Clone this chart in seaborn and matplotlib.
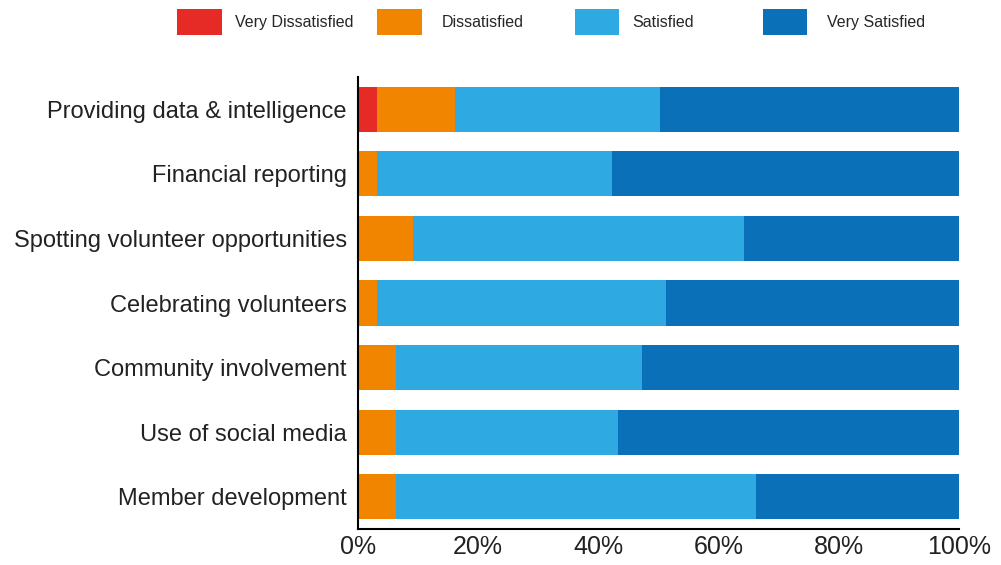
import matplotlib
matplotlib.use("Agg")
import matplotlib.pyplot as plt
import seaborn as sns
import pandas as pd
import numpy as np
from matplotlib.patches import Patch

categories = ["Providing data & intelligence", "Financial reporting",
              "Spotting volunteer opportunities", "Celebrating volunteers",
              "Community involvement", "Use of social media", "Member development"]
very_dissatisfied = [3.2, 0, 0, 0, 0, 0, 0]
dissatisfied = [13.0, 3.2, 9.2, 3.2, 6.3, 6.3, 6.3]
satisfied = [34.0, 39.1, 55.0, 48.0, 41.0, 37.0, 59.9]
very_satisfied = [49.8, 57.7, 35.8, 48.8, 52.7, 56.7, 33.8]
series_names = ["Very Dissatisfied", "Dissatisfied", "Satisfied", "Very Satisfied"]
colors = ["#E62A25", "#F28500", "#2EA9E2", "#0A71B9"]
xticks = [0, 20, 40, 60, 80, 100]

sns.set_style("white")
plt.rcParams['font.family'] = ['Liberation Sans', 'DejaVu Sans']

df = pd.DataFrame({"cat": categories, "vd": very_dissatisfied, "d": dissatisfied,
                   "s": satisfied, "vs": very_satisfied})
cum = df[["vd", "d", "s", "vs"]].cumsum(axis=1)

fig = plt.figure(figsize=(10.01, 5.65), dpi=100)
ax = fig.add_axes([0.3576, 0.0637, 0.6004, 0.8000])

# draw from largest cumulative to smallest
for col, color in zip(["vs", "s", "d", "vd"], colors[::-1]):
    sns.barplot(x=cum[col], y=df["cat"], orient="h", color=color, width=0.7,
                saturation=1, ax=ax, linewidth=0)

ax.set_xlim(0, 100)
ax.set_ylim(6.5, -0.5)
ax.set_xticks(xticks)
ax.set_xticklabels([f"{t}%" for t in xticks], fontsize=18, color="#222222")
ax.tick_params(axis="y", labelsize=17, length=0, pad=8, labelcolor="#222222")
ax.tick_params(axis="x", direction="in", length=6, width=1.2, color="black", pad=4)
ax.set_xlabel("")
ax.set_ylabel("")
for s in ["top", "right"]:
    ax.spines[s].set_visible(False)
for s in ["left", "bottom"]:
    ax.spines[s].set_color("black")
    ax.spines[s].set_linewidth(1.5)

# legend entries placed individually
anchors = [0.177, 0.377, 0.574, 0.762]
pads = [0.8, 1.2, 0.8, 1.2]
for name, color, xa, pad in zip(series_names, colors, anchors, pads):
    fig.legend(handles=[Patch(facecolor=color, edgecolor="none", label=name)],
               loc="center left", bbox_to_anchor=(xa, 1 - 22 / 565),
               frameon=False, fontsize=11.5, handlelength=2.8, handleheight=2.2,
               handletextpad=pad, borderpad=0, borderaxespad=0)

fig.savefig("out.png", dpi=100)
